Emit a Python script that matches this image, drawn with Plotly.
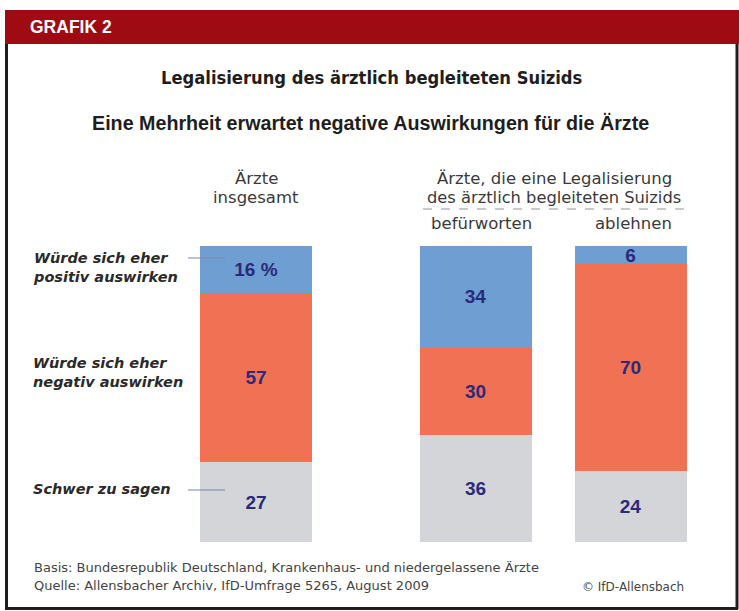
import plotly.graph_objects as go

W, H = 739, 611

# ---- data ----
groups_all = ["Ärzte insgesamt"]
groups_split = ["befürworten", "ablehnen"]
positiv = [16, 34, 6]
negativ = [57, 30, 70]
schwer = [27, 36, 24]
positiv_labels = ["16 %", "34", "6"]
negativ_labels = ["57", "30", "70"]
schwer_labels = ["27", "36", "24"]
series_names = ["Schwer zu sagen", "Würde sich eher negativ auswirken", "Würde sich eher positiv auswirken"]

C_BLUE = "#6f9fd2"
C_ORANGE = "#f07153"
C_GRAY = "#d3d5d8"
C_TEXT = "#2b2a7a"
C_RED = "#9e0b12"


def px(x):
    return x / W


def py(y):
    return 1 - y / H


fig = go.Figure()

series = [
    (series_names[0], schwer, schwer_labels, C_GRAY),
    (series_names[1], negativ, negativ_labels, C_ORANGE),
    (series_names[2], positiv, positiv_labels, C_BLUE),
]
split_width = 112 / 155
BARFONT = dict(family="Liberation Sans, Arial, sans-serif", size=19, color=C_TEXT, weight="bold")
for name, vals, labels, col in series:
    fig.add_trace(go.Bar(
        x=groups_all, y=vals[:1], text=labels[:1], name=name,
        marker=dict(color=col, line=dict(width=0)), width=1.0,
        textposition="inside", insidetextanchor="middle", constraintext="none", textangle=0,
        textfont=BARFONT, xaxis="x", yaxis="y", showlegend=False, hoverinfo="skip",
    ))
    fig.add_trace(go.Bar(
        x=groups_split, y=vals[1:], text=labels[1:], name=name,
        marker=dict(color=col, line=dict(width=0)), width=split_width,
        textposition="inside", insidetextanchor="middle", constraintext="none", textangle=0,
        textfont=BARFONT, xaxis="x2", yaxis="y", showlegend=False, hoverinfo="skip",
    ))

fig.update_layout(
    width=W, height=H,
    margin=dict(l=0, r=0, t=0, b=0),
    paper_bgcolor="white", plot_bgcolor="rgba(0,0,0,0)",
    barmode="stack", bargap=0,
    xaxis=dict(domain=[px(200), px(312)], range=[-0.5, 0.5], visible=False, anchor="y"),
    xaxis2=dict(domain=[px(397.5), px(707.5)], range=[-0.5, 1.5], visible=False, anchor="y"),
    yaxis=dict(domain=[py(542), py(246)], range=[0, 100], visible=False),
)

shapes = []
# red header
shapes.append(dict(type="rect", xref="paper", yref="paper", x0=px(5), x1=1, y0=py(44), y1=py(10),
                   fillcolor=C_RED, line=dict(width=0), layer="below"))
# frame
for (x0, y0, x1, y1) in [(6.5, 44, 6.5, 609), (5, 608.5, 738, 608.5), (737, 44, 737, 609)]:
    shapes.append(dict(type="line", xref="paper", yref="paper", x0=px(x0), x1=px(x1), y0=py(y0), y1=py(y1),
                       line=dict(color="#1e1e1e", width=3)))
# connector lines
for yy in [258, 490]:
    shapes.append(dict(type="line", xref="paper", yref="paper", x0=px(188), x1=px(225), y0=py(yy), y1=py(yy),
                       line=dict(color="#7d86a8", width=1)))
# dashed separator
shapes.append(dict(type="line", xref="paper", yref="paper", x0=px(423), x1=px(688), y0=py(209), y1=py(209),
                   line=dict(color="#b8b8b8", width=1.5, dash="dash")))
fig.update_layout(shapes=shapes)

ann = []


def add_text(text, x, y, size, color="#222", xanchor="center", family="Liberation Sans, Arial, sans-serif", yanchor="middle"):
    ann.append(dict(text=text, x=px(x), y=py(y), xref="paper", yref="paper", showarrow=False,
                    xanchor=xanchor, yanchor=yanchor,
                    align="left" if xanchor == "left" else ("right" if xanchor == "right" else "center"),
                    font=dict(size=size, color=color, family=family)))


COND = "DejaVu Sans Condensed, Liberation Sans, sans-serif"
SANS = "Liberation Sans, Arial, sans-serif"
WIDE = "DejaVu Sans, Verdana, sans-serif"
add_text("<b>GRAFIK 2</b>", 28, 27.5, 17.5, color="white", xanchor="left", family=SANS)
add_text("<b>Legalisierung des ärztlich begleiteten Suizids</b>", 371, 78, 18.2, color="#1e1e1e", family=COND)
add_text("<b>Eine Mehrheit erwartet negative Auswirkungen für die Ärzte</b>", 370, 123, 19.7, color="#1e1e1e", family=SANS)

HEAD = "#3a3a3a"
add_text("Ärzte", 256, 178, 16.5, color=HEAD, family=WIDE)
add_text("insgesamt", 256, 197, 16.5, color=HEAD, family=WIDE)
add_text("Ärzte, die eine Legalisierung", 554, 178, 16.5, color=HEAD, family=WIDE)
add_text("des ärztlich begleiteten Suizids", 554, 197, 16.3, color=HEAD, family=WIDE)
add_text(groups_split[0], 481, 223, 16.5, color=HEAD, family=WIDE)
add_text(groups_split[1], 633, 223, 16.5, color=HEAD, family=WIDE)

LAB = "#2a2a2a"
add_text("<b><i>Würde sich eher<br>positiv auswirken</i></b>", 31, 267, 14.5, color=LAB, xanchor="left", family=WIDE)
add_text("<b><i>Würde sich eher<br>negativ auswirken</i></b>", 31, 372, 14.5, color=LAB, xanchor="left", family=WIDE)
add_text("<b><i>Schwer zu sagen</i></b>", 31, 489, 14.5, color=LAB, xanchor="left", family=WIDE)

add_text("Basis: Bundesrepublik Deutschland, Krankenhaus- und niedergelassene Ärzte", 32, 567, 13,
         color="#444", xanchor="left", family=WIDE)
add_text("Quelle: Allensbacher Archiv, IfD-Umfrage 5265, August 2009", 32, 585, 13,
         color="#444", xanchor="left", family=WIDE)
add_text("© IfD-Allensbach", 686, 587, 12, color="#444", xanchor="right", family=WIDE)

fig.update_layout(annotations=ann)

fig.write_html("out.html", config={"displayModeBar": False},
               post_script="document.body.style.margin='0px';")
